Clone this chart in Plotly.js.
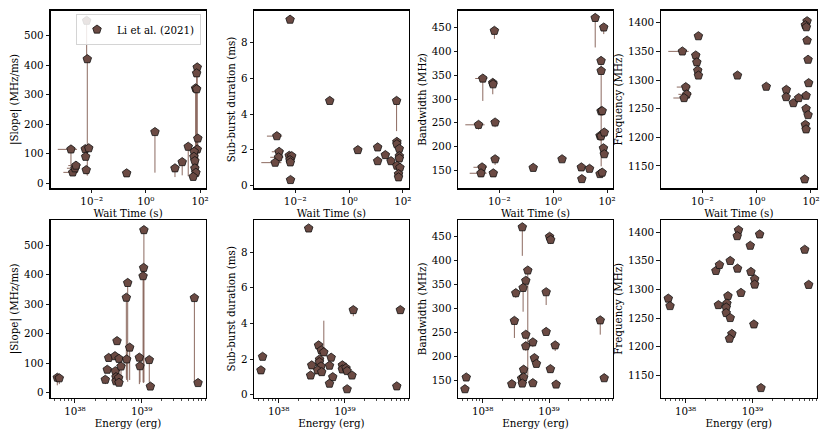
<!DOCTYPE html>
<html>
<head>
<meta charset="utf-8">
<script src="https://cdn.plot.ly/plotly-3.0.1.min.js"></script>
<style>html,body{margin:0;padding:0;background:#fff}#chart{width:830px;height:440px}</style>
</head>
<body>
<div id="chart"></div>
<script>
// ---------- DATA ----------
const legendName = "Li et al. (2021)";
const xTitleWait = "Wait Time (s)";
const xTitleEnergy = "Energy (erg)";
const yTitles = ["|Slope| (MHz/ms)", "Sub-burst duration (ms)", "Bandwidth (MHz)", "Frequency (MHz)"];

// Panel 1: wait time vs |slope|
const wait1 = [0.00172,0.0020,0.00242,0.00263,0.00653,0.00689,0.0058,0.0078,0.0060,0.0063,0.196,2.17,11.9,22,36.7,78.9,75,68.8,75,83,79,61,59.6,64.6,64.6,70.6,56];
const wait1Err = [0.00116,0.0011,0.0012,0.00126,0,0,0,0,0,0,0,0,0,0,0,0,0,0,0,0,0,0,0,0,0,0,0];
const slope1 = [115,37,51,60,551,421,116,119,90,45,34,174,51,72,124,393,373,322,319,152,115,107,90,76,51,36,22];
const slope1Lo = [55,10,8,8,130,395,10,8,10,15,5,138,30,45,100,360,340,300,290,130,5,10,8,8,5,5,5];

// Panel 2: wait time vs sub-burst duration
const wait2 = [0.00645,0.192,58.5,0.00208,0.00252,0.0024,0.0018,0.006,0.0074,0.0064,0.0066,0.0067,2.13,11.6,11.6,22.4,36.3,60,60,73.6,74,74,60,78,69,69];
const wait2Err = [0,0,0,0.00119,0.00117,0.00122,0.00125,0,0,0,0,0,0,0,0,0,0,0,0,0,0,0,0,0,0,0];
const dur2 = [9.30,4.74,4.74,2.76,1.88,1.57,1.27,1.66,1.64,1.42,1.29,0.30,1.98,2.13,1.36,1.70,1.36,2.44,2.31,2.05,1.64,1.51,1.10,0.99,0.63,0.45];
const dur2Lo = [0,0,1.7,0,0,0,0,0,0,0,0,0,0,0,0,0,0,0,0,0,0,0,0,0,0,0];

// Panel 3: wait time vs bandwidth
const wait3 = [0.0066,0.00245,0.00575,0.0059,0.0017,0.007,0.007,0.0023,0.0021,0.006,0.182,2.14,11.1,11.6,22.4,36.4,75.5,60,60.5,60,66,55,60,79,73.6,79,55,66];
const wait3Err = [0,0.00117,0,0,0.00115,0,0,0.0012,0.0013,0,0,0,0,0,0,0,0,0,0,0,0,0,0,0,0,0,0,0];
const bw3 = [443,343,334,331,246,251,174,157,144.5,144.5,156,174,157,132.5,154,470,450,380,359,274.5,275,223,222,230,197,184.6,143,146];
const bw3Lo = [17,47,24,5,10,10,12,5,5,5,3,3,3,3,3,62,14,10,200,10,10,10,10,10,5,5,3,3];

// Panel 4: wait time vs frequency
const wait4 = [0.00185,0.00718,0.00575,0.0063,0.0068,0.0072,0.00246,0.00268,0.00213,0.197,2.26,12.4,12.2,22.4,35.2,71.8,62,67.6,71.8,78,82,66,66,78,62,66,58.5];
const wait4Err = [0.00129,0,0,0,0,0,0.00131,0.00136,0.00127,0,0,0,0,0,0,0,0,0,0,0,0,0,0,0,0,0,0];
const freq4 = [1350,1376.6,1343,1331,1316.8,1308,1287.7,1275,1268.6,1308,1288.4,1283,1270.3,1259.8,1268.6,1402.8,1395.8,1392.3,1369,1335.5,1294.7,1272.7,1250,1239,1222,1214,1126.8];

// Panel 5: energy vs |slope|
const energy5 = [5.43e37,5.82e37,2.85e38,3.05e38,3.20e38,3.98e38,4.27e38,4.03e38,4.12e38,4.12e38,4.52e38,4.57e38,4.57e38,4.90e38,5.89e38,6.17e38,5.96e38,6.61e38,9.23e38,9.44e38,1.08e39,1.07e39,1.05e39,1.30e39,1.35e39,6.17e39,7.00e39];
const slope5 = [51,49,44,78,118,124,175,73,53,39,50,34,115,89,322,372,113,153,119,90,551,423,395,111,21,321,33];
const slope5Lo = [26,20,15,10,10,10,12,8,8,8,8,8,75,50,274,335,70,110,90,55,515,390,360,75,5,283,5];

// Panel 6: energy vs sub-burst duration
const energy6 = [2.84e38,1.34e39,6.87e39,5.73e37,5.41e37,4.01e38,4.40e38,4.81e38,4.15e38,4.12e38,3.16e38,4.37e38,3.89e38,4.47e38,3.04e38,6.21e38,5.86e38,6.56e38,5.86e38,9.16e38,9.16e38,1.04e39,1.08e39,1.28e39,1.08e39,6.07e39];
const dur6 = [9.33,4.75,4.75,2.13,1.37,2.77,2.49,2.38,1.98,1.83,1.65,1.59,1.37,1.27,1.08,2.08,1.63,0.99,0.62,1.65,1.42,1.49,1.33,1.08,0.31,0.47];
const dur6Hi = [0,0,0,0,0,0,0,1.77,0,0,0,0,0,0,0,0,0,0,0,0,0,0.3,0,0,0,0];
const dur6Lo = [0,0.35,0,0,0,0,0,0,0,0,0,0,0,0,0,0,0,0,0,0,0,0,0,0,0,0];

// Panel 7: energy vs bandwidth
const energy7 = [3.96e38,1.02e39,1.06e39,4.79e38,4.47e38,4.07e38,3.16e38,9.06e38,3.01e38,5.92e39,9.06e38,4.47e38,4.47e38,5.71e38,6.03e38,6.46e38,1.24e39,1.05e39,4.15e38,3.87e38,4.15e38,2.75e38,3.96e38,5.71e38,1.28e39,5.66e37,5.41e37,6.79e39];
const bw7 = [470,450,443.6,379.4,358,343,332,334,274,275,250.8,245,221,229,196,184,222.7,173,171.8,153.4,155.5,141.5,142.8,143.6,140.7,155.5,131,154];
const bw7Lo = [60,5,9,220,10,50,10,27,36,30,5,10,10,10,5,5,12,8,5,3,3,3,3,3,3,3,3,3];

// Panel 8: energy vs frequency
const energy8 = [5.52e37,5.86e37,2.84e38,3.21e38,4.65e38,5.98e38,6.19e38,5.92e38,9.27e38,1.28e39,6.04e39,9.48e38,1.08e39,1.08e39,6.92e39,6.73e38,4.30e38,4.15e38,3.10e38,4.05e38,4.05e38,4.65e38,4.92e38,4.54e38,1.05e39,1.34e39];
const freq8 = [1284,1271,1332.3,1342.7,1349.7,1336.3,1403.5,1393,1376.2,1396,1369.3,1330.6,1318,1308.5,1308,1294,1288.4,1275.5,1272.7,1268.6,1258.9,1250.2,1222.4,1214,1239,1128];

const waitTickVals = [0.01, 1, 100];
const waitTickText = ["10\u207B\u00B2", "10\u2070", "10\u00B2"];
const energyTickVals = [1e38, 1e39];
const energyTickText = ["10\u00B3\u2078", "10\u00B3\u2079"];
const energyMinor = [5e37,6e37,7e37,8e37,9e37,2e38,3e38,4e38,5e38,6e38,7e38,8e38,9e38,2e39,3e39,4e39,5e39,6e39,7e39,8e39,9e39];

// ---------- STYLE ----------
const FONT = "DejaVu Serif";
const FS = 10.3;
const markerStyle = {symbol: "pentagon", size: 9, color: "#6b4a43", line: {color: "#111", width: 0.8}};
const errColor = "#8c6a60";
function zeros(n){ return new Array(n).fill(0); }
function trace(idx, x, y, yHi, yLo, xErr, show){
  const t = {
    type: "scatter", mode: "markers", x: x, y: y,
    xaxis: idx === 1 ? "x" : "x" + idx, yaxis: idx === 1 ? "y" : "y" + idx,
    marker: markerStyle, name: legendName, showlegend: !!show,
    error_y: {type: "data", symmetric: false, array: yHi || zeros(y.length), arrayminus: yLo || zeros(y.length), color: errColor, thickness: 1, width: 0},
    hoverinfo: "x+y"
  };
  if (xErr) t.error_x = {type: "data", array: xErr, color: errColor, thickness: 1, width: 0};
  return t;
}
const data = [
  trace(1, wait1, slope1, null, slope1Lo, wait1Err, true),
  trace(2, wait2, dur2, null, dur2Lo, wait2Err),
  trace(3, wait3, bw3, null, bw3Lo, wait3Err),
  trace(4, wait4, freq4, null, null, wait4Err),
  trace(5, energy5, slope5, null, slope5Lo),
  trace(6, energy6, dur6, dur6Hi, dur6Lo),
  trace(7, energy7, bw7, null, bw7Lo),
  trace(8, energy8, freq8)
];

const W = 830, H = 440;
const colsPx = [[50.5,205.7],[254.3,408.5],[458.3,612.7],[661,816.7]];
const rowsPx = [[10.7,188.3],[220,397.7]];
const yRanges = [[-17,585],[-0.17,9.8],[113,485],[1111,1421]];
const yTicks = [[0,100,200,300,400,500],[0,2,4,6,8],[150,200,250,300,350,400,450],[1150,1200,1250,1300,1350,1400]];

const layout = {
  width: W, height: H, margin: {l:0, r:0, t:0, b:0},
  paper_bgcolor: "#fff", plot_bgcolor: "#fff",
  font: {family: FONT, size: FS, color: "#000"},
  showlegend: true,
  legend: {x: 201/W, xanchor: "right", y: 1 - 14/H, yanchor: "top", bgcolor: "rgba(255,255,255,0.85)", bordercolor: "#d4d4d4", borderwidth: 1, font: {family: FONT, size: FS}}
};
for (let r = 0; r < 2; r++){
  for (let c = 0; c < 4; c++){
    const idx = r*4 + c + 1;
    const xs = idx === 1 ? "xaxis" : "xaxis" + idx;
    const ys = idx === 1 ? "yaxis" : "yaxis" + idx;
    const ax = {
      type: "log", domain: [colsPx[c][0]/W, colsPx[c][1]/W],
      anchor: idx === 1 ? "y" : "y" + idx,
      showline: true, mirror: true, linecolor: "#000", linewidth: 1.3,
      showgrid: false, zeroline: false, ticks: "outside", ticklen: 3.5, tickwidth: 0.9, tickcolor: "#000",
      tickfont: {family: FONT, size: FS},
      title: {text: r === 0 ? xTitleWait : xTitleEnergy, font: {family: FONT, size: FS}, standoff: 2}
    };
    if (r === 0){
      ax.range = [-3.52, 2.21]; ax.tickmode = "array"; ax.tickvals = waitTickVals; ax.ticktext = waitTickText;
    } else {
      ax.range = [37.633, 39.96]; ax.tickmode = "array"; ax.tickvals = energyTickVals; ax.ticktext = energyTickText;
      ax.minor = {tickmode: "array", tickvals: energyMinor, ticks: "outside", ticklen: 2, tickwidth: 0.7, tickcolor: "#000", showgrid: false};
    }
    layout[xs] = ax;
    layout[ys] = {
      domain: [1 - rowsPx[r][1]/H, 1 - rowsPx[r][0]/H],
      anchor: idx === 1 ? "x" : "x" + idx,
      range: yRanges[c], tickmode: "array", tickvals: yTicks[c],
      showline: true, mirror: true, linecolor: "#000", linewidth: 1.3,
      showgrid: false, zeroline: false, ticks: "outside", ticklen: 3.5, tickwidth: 0.9, tickcolor: "#000",
      tickfont: {family: FONT, size: FS},
      title: {text: yTitles[c], font: {family: FONT, size: FS}, standoff: 3}
    };
  }
}
Plotly.newPlot("chart", data, layout, {displayModeBar: false, staticPlot: true});
</script>
</body>
</html>
